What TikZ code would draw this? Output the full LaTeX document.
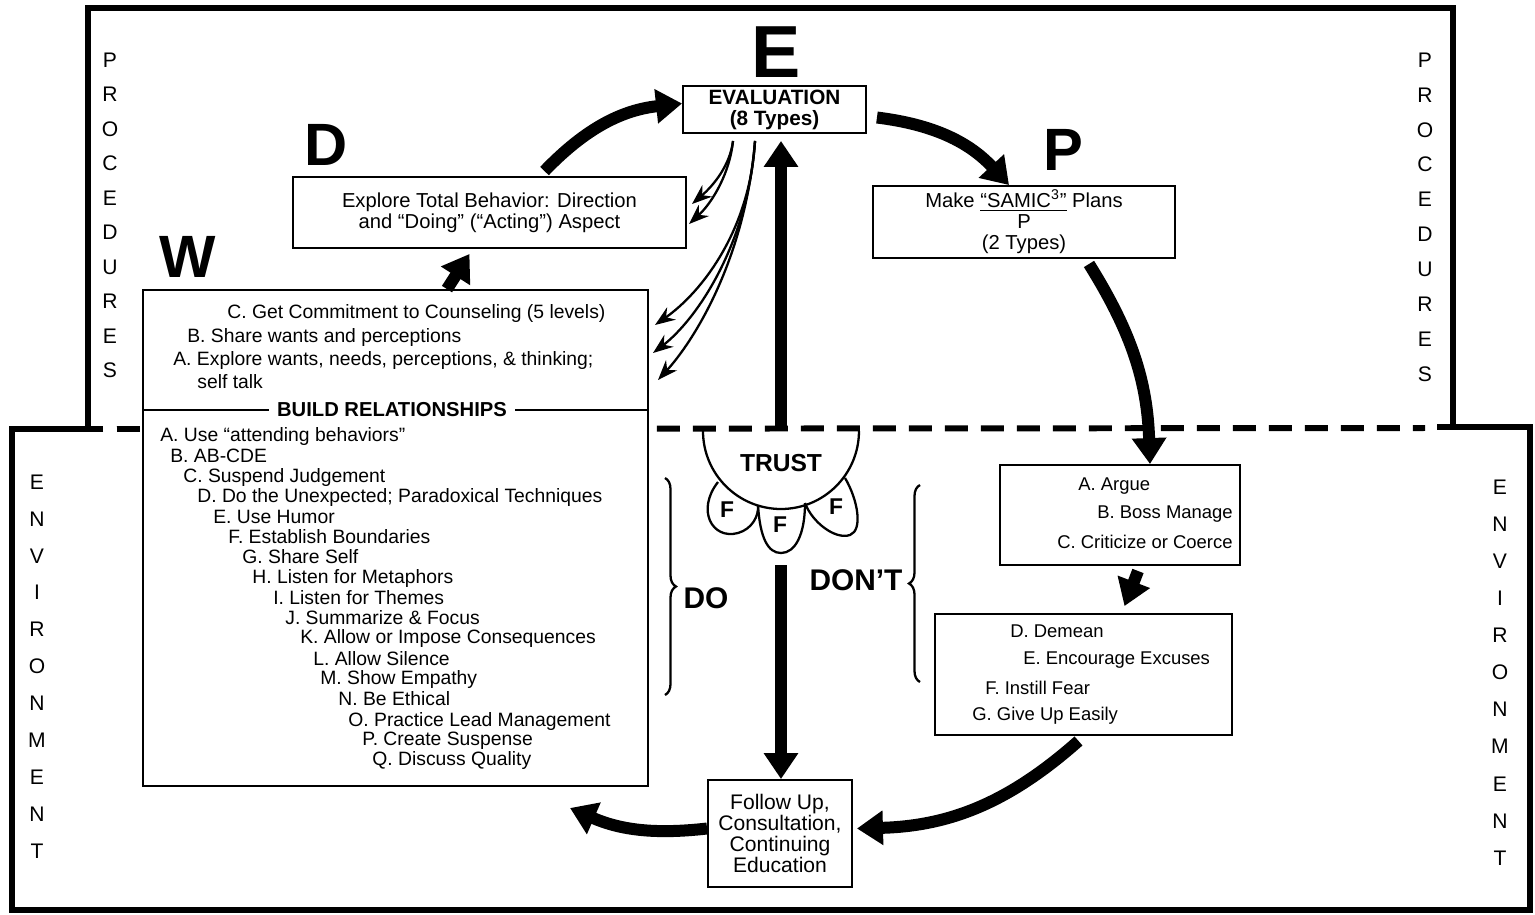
\documentclass[tikz,border=0pt]{standalone}
\usepackage{fontspec}
\setmainfont{Liberation Sans}
\usetikzlibrary{arrows.meta,decorations.pathreplacing}

\newcommand\bodysize{\fontsize{11}{12}\selectfont}
\newcommand\dontsize{\fontsize{10.5}{12}\selectfont}
\newcommand\sidesize{\fontsize{12}{14}\selectfont}
\newcommand\stepsize{\fontsize{34}{36}\selectfont\bfseries}
\newcommand\bigsize{\fontsize{17}{19}\selectfont\bfseries}
\newcommand\framewidth{3.4pt}
\newcommand\colword[5]{
  \foreach \ltr [count=\i from 0] in {#5} {
    \draw (#2, #3 + \i * #4) node[sidetext] (#1\i) {\ltr} ;
  }
}

\tikzset{
  textbox/.style={draw, line width=1.1pt, fill=white, align=center, inner sep=0pt},
  listtext/.style={anchor=west, inner sep=0pt, font=\bodysize},
  donttext/.style={anchor=west, inner sep=0pt, font=\dontsize},
  sidetext/.style={inner sep=0pt, font=\sidesize},
  steplabel/.style={inner sep=0pt, font=\stepsize},
  borderline/.style={line width=\framewidth},
  bigarrow/.style={line width=0.24cm, -{Triangle[width=0.66cm,length=0.52cm]}},
  thinarrow/.style={line width=1.3pt, -{Stealth[length=0.4cm,width=0.3cm]}},
  bracestyle/.style={line width=1.3pt, decorate, decoration={brace, amplitude=0.22cm}}
}

\begin{document}
\begin{tikzpicture}[x=0.02cm, y=-0.02cm]
  \useasboundingbox[fill=white] (0,0) rectangle (1535,914);

  % procedures and environment frames
  \draw[borderline] (88,428) -- (88,8) -- (1453,8) -- (1453,425) ;
  \draw[borderline] (103,429) -- (12,429) -- (12,910) -- (1530,910) -- (1530,427) -- (1437,427) ;
  \draw[borderline, dash pattern=on 0.46cm off 0.26cm] (117,429) -- (1425,428) ;

  \colword{procl}{110}{60}{34.5}{P,R,O,C,E,D,U,R,E,S}
  \colword{procr}{1425}{60}{34.9}{P,R,O,C,E,D,U,R,E,S}
  \colword{envl}{37}{482}{36.9}{E,N,V,I,R,O,N,M,E,N,T}
  \colword{envr}{1500}{487}{37.1}{E,N,V,I,R,O,N,M,E,N,T}

  % step letters
  \draw (776, 52) node[steplabel, font=\fontsize{42}{44}\selectfont\bfseries] (stepE) {E} ;
  \draw (326, 145) node[steplabel] (stepD) {D} ;
  \draw (1063, 150) node[steplabel] (stepP) {P} ;
  \draw (188, 257) node[steplabel] (stepW) {W} ;

  % boxes
  \node[textbox, minimum width=3.66cm, minimum height=0.94cm, font=\fontsize{11.8}{12}\selectfont\bfseries]
    (eval) at (774.5,109.5) {EVALUATION\\(8 Types)};
  \node[textbox, minimum width=7.86cm, minimum height=1.42cm, font=\fontsize{11.5}{12}\selectfont]
    (dbox) at (489.5,212.5) {Explore Total Behavior: Direction\\and “Doing” (“Acting”) Aspect};
  \node[textbox, minimum width=6.04cm, minimum height=1.44cm, font=\fontsize{11.5}{12}\selectfont]
    (pbox) at (1024,222) {Make \underline{“SAMIC\textsuperscript{3}”} Plans\\P\\(2 Types)};
  \node[textbox, minimum width=10.1cm, minimum height=9.92cm] (wbox) at (395.5,538) {};
  \node[textbox, minimum width=4.8cm, minimum height=2.0cm] (acbox) at (1120,515) {};
  \node[textbox, minimum width=5.94cm, minimum height=2.42cm] (dgbox) at (1083.5,674.5) {};
  \node[textbox, minimum width=2.88cm, minimum height=2.14cm, font=\fontsize{12}{12}\selectfont]
    (follow) at (780,833.5) {Follow Up,\\Consultation,\\Continuing\\Education};

  % W box contents
  \draw (227, 313) node[listtext] (wuC) {C. Get Commitment to Counseling (5 levels)} ;
  \draw (187, 337) node[listtext] (wuB) {B. Share wants and perceptions} ;
  \draw (173, 360) node[listtext] (wuA) {A. Explore wants, needs, perceptions, \& thinking;} ;
  \draw (197, 382) node[listtext] (wuS) {self talk} ;
  \draw (392, 410) node[inner sep=0pt, font=\fontsize{11.5}{12}\selectfont\bfseries] (build) {BUILD RELATIONSHIPS} ;
  \draw[line width=1.1pt] (wbox.west |- build) -- ([xshift=-0.16cm]build.west) ;
  \draw[line width=1.1pt] ([xshift=0.16cm]build.east) -- (wbox.east |- build) ;
  \draw (160, 436) node[listtext] (wlA) {A. Use “attending behaviors”} ;
  \draw (170, 456) node[listtext] (wlB) {B. AB-CDE} ;
  \draw (183, 477) node[listtext] (wlC) {C. Suspend Judgement} ;
  \draw (197, 497) node[listtext] (wlD) {D. Do the Unexpected; Paradoxical Techniques} ;
  \draw (213, 517) node[listtext] (wlE) {E. Use Humor} ;
  \draw (228, 537) node[listtext] (wlF) {F. Establish Boundaries} ;
  \draw (242, 557) node[listtext] (wlG) {G. Share Self} ;
  \draw (252, 578) node[listtext] (wlH) {H. Listen for Metaphors} ;
  \draw (273, 598) node[listtext] (wlI) {I. Listen for Themes} ;
  \draw (285, 618) node[listtext] (wlJ) {J. Summarize \& Focus} ;
  \draw (300, 638) node[listtext] (wlK) {K. Allow or Impose Consequences} ;
  \draw (313, 659) node[listtext] (wlL) {L. Allow Silence} ;
  \draw (320, 679) node[listtext] (wlM) {M. Show Empathy} ;
  \draw (338, 699) node[listtext] (wlN) {N. Be Ethical} ;
  \draw (348, 721) node[listtext] (wlO) {O. Practice Lead Management} ;
  \draw (362, 741) node[listtext] (wlP) {P. Create Suspense} ;
  \draw (372, 760) node[listtext] (wlQ) {Q. Discuss Quality} ;

  % don't boxes
  \draw (1078, 486) node[donttext] (nA) {A. Argue} ;
  \draw (1097, 514) node[donttext] (nB) {B. Boss Manage} ;
  \draw (1057, 542) node[donttext] (nC) {C. Criticize or Coerce} ;
  \draw (1010, 631) node[donttext] (nD) {D. Demean} ;
  \draw (1023, 660) node[donttext] (nE) {E. Encourage Excuses} ;
  \draw (985, 688) node[donttext] (nF) {F. Instill Fear} ;
  \draw (972, 716) node[donttext] (nG) {G. Give Up Easily} ;

  % trust and the three F's
  \draw[line width=1.3pt] (703,431) arc[start angle=180, end angle=360, radius=1.56cm] ;
  \draw[line width=1.3pt] (718,482) .. controls (696,510) and (712,540) .. (738,533)
    .. controls (752,529) and (759,516) .. (758,505) ;
  \draw[line width=1.3pt] (758,505) .. controls (760,538) and (768,553) .. (781,553)
    .. controls (795,553) and (805,535) .. (805,503) ;
  \draw[line width=1.3pt] (805,503) .. controls (812,522) and (835,540) .. (850,535)
    .. controls (863,530) and (858,500) .. (845,478) ;
  \draw (781, 463) node[inner sep=0pt, font=\fontsize{14}{16}\selectfont\bfseries] (trust) {TRUST} ;
  \draw (727, 510) node[inner sep=0pt, font=\fontsize{13}{15}\selectfont\bfseries] (f1) {F} ;
  \draw (780, 525) node[inner sep=0pt, font=\fontsize{13}{15}\selectfont\bfseries] (f2) {F} ;
  \draw (836, 507) node[inner sep=0pt, font=\fontsize{13}{15}\selectfont\bfseries] (f3) {F} ;
  \coordinate (trusttop) at (781,431) ;
  \coordinate (stem) at (781,565) ;

  % do / don't
  \draw[bracestyle] (665,478) -- (665,695) ;
  \draw (706, 598) node[inner sep=0pt, font=\bigsize] (do) {DO} ;
  \draw[bracestyle] (920,682) -- (920,485) ;
  \draw (856, 580) node[inner sep=0pt, font=\bigsize] (dont) {DON’T} ;

  % big arrows
  \draw[bigarrow] ([xshift=1.1cm,yshift=0.1cm]dbox.north) to[bend left=20] ([yshift=0.12cm]eval.west) ;
  \draw[bigarrow] ([xshift=0.2cm,yshift=-0.16cm]eval.east) to[bend left=20] ([xshift=-0.3cm]pbox.north) ;
  \draw[bigarrow] ([xshift=1.3cm,yshift=-0.1cm]pbox.south) to[bend left=15] ([xshift=0.6cm]acbox.north) ;
  \draw[bigarrow] ([xshift=0.36cm,yshift=-0.1cm]acbox.south) -- ([xshift=0.82cm,yshift=0.14cm]dgbox.north) ;
  \draw[bigarrow] ([xshift=-0.1cm,yshift=-0.1cm]dgbox.south) to[bend left=20] ([xshift=0.08cm,yshift=0.1cm]follow.east) ;
  \coordinate (wreturn) at (570,808) ;
  \draw[bigarrow] ([yshift=0.1cm]follow.west) to[bend left=15] (wreturn) ;
  \draw[bigarrow] ([xshift=1.03cm]wbox.north) -- ([xshift=-0.4cm,yshift=-0.1cm]dbox.south) ;
  \draw[bigarrow, shorten >=0.14cm] (trusttop) -- (trusttop |- eval.south) ;
  \draw[bigarrow] (stem) -- (stem |- follow.north) ;

  % thin arrows from evaluation
  \coordinate (dtip1) at (692,204) ;
  \coordinate (dtip2) at (689,224) ;
  \coordinate (wtip1) at (655,325) ;
  \coordinate (wtip2) at (653,353) ;
  \coordinate (wtip3) at (658,380) ;
  \draw[thinarrow] ([xshift=-0.83cm,yshift=-0.14cm]eval.south) .. controls (730,165) and (714,185) .. (dtip1) ;
  \draw[thinarrow] ([xshift=-0.83cm,yshift=-0.14cm]eval.south) .. controls (730,172) and (713,202) .. (dtip2) ;
  \draw[thinarrow] ([xshift=-0.39cm,yshift=-0.14cm]eval.south) .. controls (750,230) and (702,292) .. (wtip1) ;
  \draw[thinarrow] ([xshift=-0.39cm,yshift=-0.14cm]eval.south) .. controls (748,245) and (696,320) .. (wtip2) ;
  \draw[thinarrow] ([xshift=-0.39cm,yshift=-0.14cm]eval.south) .. controls (745,262) and (692,343) .. (wtip3) ;
\end{tikzpicture}
\end{document}
